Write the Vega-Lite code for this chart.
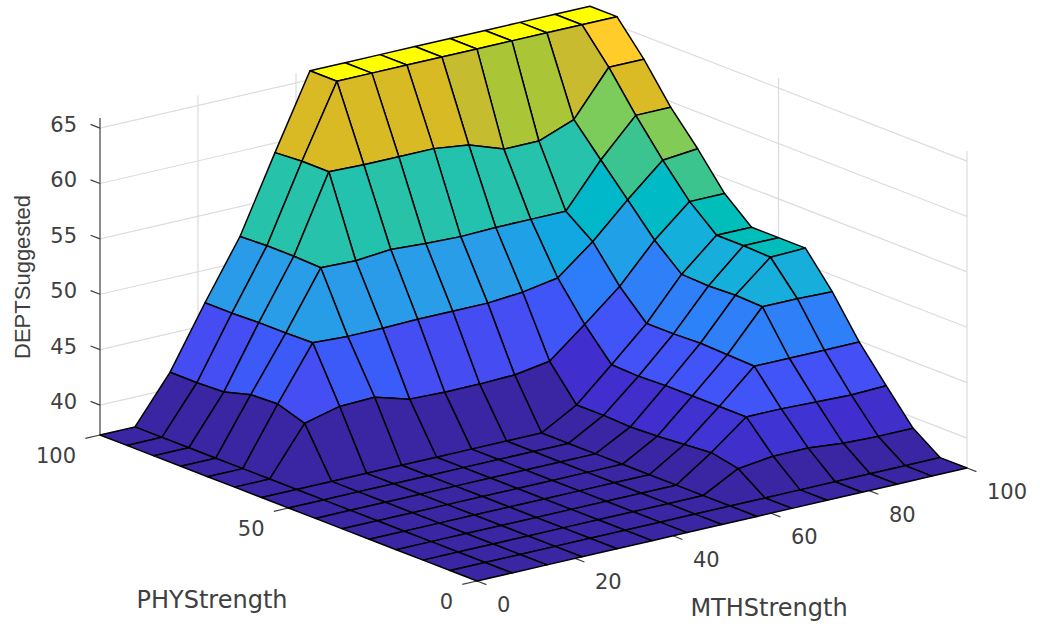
{"$schema":"https://vega.github.io/schema/vega-lite/v6.json","width":1040,"height":624,"autosize":{"type":"none"},"padding":0,"background":"white","config":{"view":{"stroke":null}},
"datasets":{
"surface":[
{"i":14,"j":14,"z":65.8},{"i":14,"j":13,"z":65.8},{"i":14,"j":12,"z":62.9},{"i":14,"j":11,"z":59.5},{"i":14,"j":10,"z":56.7},{"i":14,"j":9,"z":53.6},{"i":14,"j":8,"z":51.5},{"i":14,"j":7,"z":51.5},{"i":14,"j":6,"z":51.5},{"i":14,"j":5,"z":48.5},{"i":14,"j":4,"z":44.9},{"i":14,"j":3,"z":41.9},{"i":14,"j":2,"z":39.0},{"i":14,"j":1,"z":37.3},{"i":14,"j":0,"z":37.3},
{"i":13,"j":14,"z":65.8},{"i":13,"j":13,"z":65.8},{"i":13,"j":12,"z":62.9},{"i":13,"j":11,"z":59.5},{"i":13,"j":10,"z":56.4},{"i":13,"j":9,"z":53.6},{"i":13,"j":8,"z":51.5},{"i":13,"j":7,"z":51.5},{"i":13,"j":6,"z":51.4},{"i":13,"j":5,"z":48.6},{"i":13,"j":4,"z":44.9},{"i":13,"j":3,"z":41.8},{"i":13,"j":2,"z":39.0},{"i":13,"j":1,"z":37.3},{"i":13,"j":0,"z":37.3},
{"i":12,"j":14,"z":65.8},{"i":12,"j":13,"z":65.8},{"i":12,"j":12,"z":58.9},{"i":12,"j":11,"z":56.2},{"i":12,"j":10,"z":53.55},{"i":12,"j":9,"z":50.84},{"i":12,"j":8,"z":48.7},{"i":12,"j":7,"z":48.6},{"i":12,"j":6,"z":48.7},{"i":12,"j":5,"z":48.6},{"i":12,"j":4,"z":44.9},{"i":12,"j":3,"z":41.9},{"i":12,"j":2,"z":39.1},{"i":12,"j":1,"z":37.3},{"i":12,"j":0,"z":37.3},
{"i":11,"j":14,"z":65.8},{"i":11,"j":13,"z":65.8},{"i":11,"j":12,"z":57.7},{"i":11,"j":11,"z":52.3},{"i":11,"j":10,"z":50.5},{"i":11,"j":9,"z":47.4},{"i":11,"j":8,"z":45.0},{"i":11,"j":7,"z":45.0},{"i":11,"j":6,"z":45.1},{"i":11,"j":5,"z":45.0},{"i":11,"j":4,"z":44.9},{"i":11,"j":3,"z":42.0},{"i":11,"j":2,"z":39.4},{"i":11,"j":1,"z":37.3},{"i":11,"j":0,"z":37.3},
{"i":10,"j":14,"z":65.8},{"i":10,"j":13,"z":65.8},{"i":10,"j":12,"z":57.7},{"i":10,"j":11,"z":52.3},{"i":10,"j":10,"z":47.95},{"i":10,"j":9,"z":44.7},{"i":10,"j":8,"z":42.0},{"i":10,"j":7,"z":41.9},{"i":10,"j":6,"z":42.0},{"i":10,"j":5,"z":42.0},{"i":10,"j":4,"z":42.0},{"i":10,"j":3,"z":42.0},{"i":10,"j":2,"z":39.4},{"i":10,"j":1,"z":37.3},{"i":10,"j":0,"z":37.3},
{"i":9,"j":14,"z":65.8},{"i":9,"j":13,"z":65.8},{"i":9,"j":12,"z":58.8},{"i":9,"j":11,"z":52.3},{"i":9,"j":10,"z":47.4},{"i":9,"j":9,"z":42.1},{"i":9,"j":8,"z":39.1},{"i":9,"j":7,"z":39.1},{"i":9,"j":6,"z":39.0},{"i":9,"j":5,"z":39.1},{"i":9,"j":4,"z":39.3},{"i":9,"j":3,"z":39.5},{"i":9,"j":2,"z":39.0},{"i":9,"j":1,"z":37.3},{"i":9,"j":0,"z":37.3},
{"i":8,"j":14,"z":65.8},{"i":8,"j":13,"z":65.8},{"i":8,"j":12,"z":59.2},{"i":8,"j":11,"z":52.2},{"i":8,"j":10,"z":47.14},{"i":8,"j":9,"z":41.6},{"i":8,"j":8,"z":37.3},{"i":8,"j":7,"z":37.3},{"i":8,"j":6,"z":37.3},{"i":8,"j":5,"z":37.3},{"i":8,"j":4,"z":37.3},{"i":8,"j":3,"z":37.3},{"i":8,"j":2,"z":37.3},{"i":8,"j":1,"z":37.3},{"i":8,"j":0,"z":37.3},
{"i":7,"j":14,"z":65.8},{"i":7,"j":13,"z":65.8},{"i":7,"j":12,"z":59.2},{"i":7,"j":11,"z":52.3},{"i":7,"j":10,"z":47.14},{"i":7,"j":9,"z":41.5},{"i":7,"j":8,"z":37.3},{"i":7,"j":7,"z":37.3},{"i":7,"j":6,"z":37.3},{"i":7,"j":5,"z":37.3},{"i":7,"j":4,"z":37.3},{"i":7,"j":3,"z":37.3},{"i":7,"j":2,"z":37.3},{"i":7,"j":1,"z":37.3},{"i":7,"j":0,"z":37.3},
{"i":6,"j":14,"z":65.8},{"i":6,"j":13,"z":65.8},{"i":6,"j":12,"z":59.2},{"i":6,"j":11,"z":52.5},{"i":6,"j":10,"z":47.14},{"i":6,"j":9,"z":41.5},{"i":6,"j":8,"z":37.3},{"i":6,"j":7,"z":37.3},{"i":6,"j":6,"z":37.3},{"i":6,"j":5,"z":37.3},{"i":6,"j":4,"z":37.3},{"i":6,"j":3,"z":37.3},{"i":6,"j":2,"z":37.3},{"i":6,"j":1,"z":37.3},{"i":6,"j":0,"z":37.3},
{"i":5,"j":14,"z":59.14},{"i":5,"j":13,"z":59.3},{"i":5,"j":12,"z":59.3},{"i":5,"j":11,"z":52.2},{"i":5,"j":10,"z":47.05},{"i":5,"j":9,"z":41.6},{"i":5,"j":8,"z":37.3},{"i":5,"j":7,"z":37.3},{"i":5,"j":6,"z":37.3},{"i":5,"j":5,"z":37.3},{"i":5,"j":4,"z":37.3},{"i":5,"j":3,"z":37.3},{"i":5,"j":2,"z":37.3},{"i":5,"j":1,"z":37.3},{"i":5,"j":0,"z":37.3},
{"i":4,"j":14,"z":52.3},{"i":4,"j":13,"z":52.4},{"i":4,"j":12,"z":52.4},{"i":4,"j":11,"z":52.3},{"i":4,"j":10,"z":47.05},{"i":4,"j":9,"z":42.5},{"i":4,"j":8,"z":37.3},{"i":4,"j":7,"z":37.3},{"i":4,"j":6,"z":37.3},{"i":4,"j":5,"z":37.3},{"i":4,"j":4,"z":37.3},{"i":4,"j":3,"z":37.3},{"i":4,"j":2,"z":37.3},{"i":4,"j":1,"z":37.3},{"i":4,"j":0,"z":37.3},
{"i":3,"j":14,"z":47.05},{"i":3,"j":13,"z":47.05},{"i":3,"j":12,"z":47.14},{"i":3,"j":11,"z":47.14},{"i":3,"j":10,"z":47.2},{"i":3,"j":9,"z":42.4},{"i":3,"j":8,"z":37.3},{"i":3,"j":7,"z":37.3},{"i":3,"j":6,"z":37.3},{"i":3,"j":5,"z":37.3},{"i":3,"j":4,"z":37.3},{"i":3,"j":3,"z":37.3},{"i":3,"j":2,"z":37.3},{"i":3,"j":1,"z":37.3},{"i":3,"j":0,"z":37.3},
{"i":2,"j":14,"z":41.5},{"i":2,"j":13,"z":41.5},{"i":2,"j":12,"z":41.6},{"i":2,"j":11,"z":42.3},{"i":2,"j":10,"z":42.4},{"i":2,"j":9,"z":41.6},{"i":2,"j":8,"z":37.3},{"i":2,"j":7,"z":37.3},{"i":2,"j":6,"z":37.3},{"i":2,"j":5,"z":37.3},{"i":2,"j":4,"z":37.3},{"i":2,"j":3,"z":37.3},{"i":2,"j":2,"z":37.3},{"i":2,"j":1,"z":37.3},{"i":2,"j":0,"z":37.3},
{"i":1,"j":14,"z":37.3},{"i":1,"j":13,"z":37.3},{"i":1,"j":12,"z":37.3},{"i":1,"j":11,"z":37.3},{"i":1,"j":10,"z":37.3},{"i":1,"j":9,"z":37.3},{"i":1,"j":8,"z":37.3},{"i":1,"j":7,"z":37.3},{"i":1,"j":6,"z":37.3},{"i":1,"j":5,"z":37.3},{"i":1,"j":4,"z":37.3},{"i":1,"j":3,"z":37.3},{"i":1,"j":2,"z":37.3},{"i":1,"j":1,"z":37.3},{"i":1,"j":0,"z":37.3},
{"i":0,"j":14,"z":37.3},{"i":0,"j":13,"z":37.3},{"i":0,"j":12,"z":37.3},{"i":0,"j":11,"z":37.3},{"i":0,"j":10,"z":37.3},{"i":0,"j":9,"z":37.3},{"i":0,"j":8,"z":37.3},{"i":0,"j":7,"z":37.3},{"i":0,"j":6,"z":37.3},{"i":0,"j":5,"z":37.3},{"i":0,"j":4,"z":37.3},{"i":0,"j":3,"z":37.3},{"i":0,"j":2,"z":37.3},{"i":0,"j":1,"z":37.3},{"i":0,"j":0,"z":37.3}
],
"grid":[
{"s":"z40","o":0,"m":0,"p":100,"z":40},{"s":"z40","o":1,"m":100,"p":100,"z":40},{"s":"z40","o":2,"m":100,"p":0,"z":40},
{"s":"z45","o":0,"m":0,"p":100,"z":45},{"s":"z45","o":1,"m":100,"p":100,"z":45},{"s":"z45","o":2,"m":100,"p":0,"z":45},
{"s":"z50","o":0,"m":0,"p":100,"z":50},{"s":"z50","o":1,"m":100,"p":100,"z":50},{"s":"z50","o":2,"m":100,"p":0,"z":50},
{"s":"z55","o":0,"m":0,"p":100,"z":55},{"s":"z55","o":1,"m":100,"p":100,"z":55},{"s":"z55","o":2,"m":100,"p":0,"z":55},
{"s":"z60","o":0,"m":0,"p":100,"z":60},{"s":"z60","o":1,"m":100,"p":100,"z":60},{"s":"z60","o":2,"m":100,"p":0,"z":60},
{"s":"z65","o":0,"m":0,"p":100,"z":65},{"s":"z65","o":1,"m":100,"p":100,"z":65},{"s":"z65","o":2,"m":100,"p":0,"z":65},
{"s":"m20","o":0,"m":20,"p":100,"z":37.3},{"s":"m20","o":1,"m":20,"p":100,"z":65.9},
{"s":"m40","o":0,"m":40,"p":100,"z":37.3},{"s":"m40","o":1,"m":40,"p":100,"z":65.9},
{"s":"m60","o":0,"m":60,"p":100,"z":37.3},{"s":"m60","o":1,"m":60,"p":100,"z":65.9},
{"s":"m80","o":0,"m":80,"p":100,"z":37.3},{"s":"m80","o":1,"m":80,"p":100,"z":65.9},
{"s":"p50","o":0,"m":100,"p":50,"z":37.3},{"s":"p50","o":1,"m":100,"p":50,"z":65.9},
{"s":"p0","o":0,"m":100,"p":0,"z":37.3},{"s":"p0","o":1,"m":100,"p":0,"z":65.9}
],
"axes":[
{"s":"zaxis","o":0,"m":0,"p":100,"z":37.3},{"s":"zaxis","o":1,"m":0,"p":100,"z":65.9},
{"s":"t40","o":0,"m":0,"p":100,"z":40},{"s":"t40","o":1,"m":0,"p":102.5,"z":40},
{"s":"t45","o":0,"m":0,"p":100,"z":45},{"s":"t45","o":1,"m":0,"p":102.5,"z":45},
{"s":"t50","o":0,"m":0,"p":100,"z":50},{"s":"t50","o":1,"m":0,"p":102.5,"z":50},
{"s":"t55","o":0,"m":0,"p":100,"z":55},{"s":"t55","o":1,"m":0,"p":102.5,"z":55},
{"s":"t60","o":0,"m":0,"p":100,"z":60},{"s":"t60","o":1,"m":0,"p":102.5,"z":60},
{"s":"t65","o":0,"m":0,"p":100,"z":65},{"s":"t65","o":1,"m":0,"p":102.5,"z":65},
{"s":"tm0","o":0,"m":0,"p":0,"z":37.3},{"s":"tm0","o":1,"m":0,"p":-2.5,"z":37.3},
{"s":"tm20","o":0,"m":20,"p":0,"z":37.3},{"s":"tm20","o":1,"m":20,"p":-2.5,"z":37.3},
{"s":"tm40","o":0,"m":40,"p":0,"z":37.3},{"s":"tm40","o":1,"m":40,"p":-2.5,"z":37.3},
{"s":"tm60","o":0,"m":60,"p":0,"z":37.3},{"s":"tm60","o":1,"m":60,"p":-2.5,"z":37.3},
{"s":"tm80","o":0,"m":80,"p":0,"z":37.3},{"s":"tm80","o":1,"m":80,"p":-2.5,"z":37.3},
{"s":"tm100","o":0,"m":100,"p":0,"z":37.3},{"s":"tm100","o":1,"m":100,"p":-2.5,"z":37.3},
{"s":"tp0","o":0,"m":0,"p":0,"z":37.3},{"s":"tp0","o":1,"m":-3,"p":0,"z":37.3},
{"s":"tp50","o":0,"m":0,"p":50,"z":37.3},{"s":"tp50","o":1,"m":-3,"p":50,"z":37.3},
{"s":"tp100","o":0,"m":0,"p":100,"z":37.3},{"s":"tp100","o":1,"m":-3,"p":100,"z":37.3}
]
},
"layer":[
{"data":{"name":"grid"},
 "transform":[{"calculate":"477+4.9*datum.m-3.77*datum.p","as":"sx"},{"calculate":"581-1.13*datum.m-1.46*datum.p-(datum.z-37.3)*11.08","as":"sy"}],
 "mark":{"type":"line","stroke":"#dcdcdc","strokeWidth":1.2},
 "encoding":{"x":{"field":"sx","type":"quantitative","scale":{"domain":[0,1040],"nice":false,"zero":false},"axis":null},"y":{"field":"sy","type":"quantitative","scale":{"domain":[624,0],"nice":false,"zero":false},"axis":null},"detail":{"field":"s"},"order":{"field":"o"}}},
{"data":{"name":"axes"},
 "transform":[{"calculate":"477+4.9*datum.m-3.77*datum.p","as":"sx"},{"calculate":"581-1.13*datum.m-1.46*datum.p-(datum.z-37.3)*11.08","as":"sy"}],
 "mark":{"type":"line","stroke":"#404040","strokeWidth":1.2},
 "encoding":{"x":{"field":"sx","type":"quantitative","scale":{"domain":[0,1040],"nice":false,"zero":false},"axis":null},"y":{"field":"sy","type":"quantitative","scale":{"domain":[624,0],"nice":false,"zero":false},"axis":null},"detail":{"field":"s"},"order":{"field":"o"}}},
{"data":{"name":"surface"},
 "transform":[
  {"calculate":"[0,1,2,3]","as":"k"},{"flatten":["k"]},
  {"calculate":"datum.i-((datum.k==1||datum.k==2)?1:0)","as":"ci"},
  {"calculate":"datum.j-(datum.k>=2?1:0)","as":"cj"},
  {"filter":"datum.ci>=0&&datum.ci<14&&datum.cj>=0&&datum.cj<14"},
  {"calculate":"datum.ci*100+datum.cj","as":"cell"},
  {"calculate":"datum.k==0?datum.z:null","as":"c0"},
  {"joinaggregate":[{"op":"max","field":"c0","as":"cz"}],"groupby":["cell"]},
  {"calculate":"477+35*datum.i-26.93*datum.j","as":"sx"},
  {"calculate":"581-8.07*datum.i-10.43*datum.j-(datum.z-37.3)*11.08","as":"sy"}
 ],
 "mark":{"type":"line","interpolate":"linear-closed","stroke":"#000000","strokeWidth":1.5,"strokeJoin":"round"},
 "encoding":{"x":{"field":"sx","type":"quantitative","scale":{"domain":[0,1040],"nice":false,"zero":false},"axis":null},"y":{"field":"sy","type":"quantitative","scale":{"domain":[624,0],"nice":false,"zero":false},"axis":null},"detail":{"field":"cell"},"order":{"field":"k"},
 "fill":{"field":"cz","type":"quantitative","legend":null,"scale":{"domain":[37.3,39.2,41.8,45,47.1,48.6,50.6,52.3,53.6,56.2,57.7,58.9,59.2,62.9,65.8],"range":["#3a26a3","#4030d0","#4450f6","#2f80f8","#2a9ce8","#18aedc","#00b8c8","#26c2ac","#3cc48e","#7ccc5c","#aac535","#c8bb30","#d8ba25","#ffcc2a","#ffff00"]}}}},
{"data":{"values":[{"t":"0","m":0},{"t":"20","m":20},{"t":"40","m":40},{"t":"60","m":60},{"t":"80","m":80},{"t":"100","m":100}]},
 "transform":[{"calculate":"477+4.9*datum.m","as":"sx"},{"calculate":"581-1.13*datum.m","as":"sy"}],
 "mark":{"type":"text","align":"left","baseline":"middle","dx":20,"dy":25,"font":"DejaVu Sans","fontSize":21,"fill":"#404040"},
 "encoding":{"x":{"field":"sx","type":"quantitative","scale":{"domain":[0,1040],"nice":false,"zero":false},"axis":null},"y":{"field":"sy","type":"quantitative","scale":{"domain":[624,0],"nice":false,"zero":false},"axis":null},"text":{"field":"t"}}},
{"data":{"values":[{"t":"0","p":0},{"t":"50","p":50},{"t":"100","p":100}]},
 "transform":[{"calculate":"477-3.77*datum.p","as":"sx"},{"calculate":"581-1.46*datum.p","as":"sy"}],
 "mark":{"type":"text","align":"right","baseline":"middle","dx":-24,"dy":22,"font":"DejaVu Sans","fontSize":21,"fill":"#404040"},
 "encoding":{"x":{"field":"sx","type":"quantitative","scale":{"domain":[0,1040],"nice":false,"zero":false},"axis":null},"y":{"field":"sy","type":"quantitative","scale":{"domain":[624,0],"nice":false,"zero":false},"axis":null},"text":{"field":"t"}}},
{"data":{"values":[{"t":"40","z":40},{"t":"45","z":45},{"t":"50","z":50},{"t":"55","z":55},{"t":"60","z":60},{"t":"65","z":65}]},
 "transform":[{"calculate":"100","as":"sx"},{"calculate":"435-(datum.z-37.3)*11.08","as":"sy"}],
 "mark":{"type":"text","align":"right","baseline":"middle","dx":-23,"dy":-2,"font":"DejaVu Sans","fontSize":21,"fill":"#404040"},
 "encoding":{"x":{"field":"sx","type":"quantitative","scale":{"domain":[0,1040],"nice":false,"zero":false},"axis":null},"y":{"field":"sy","type":"quantitative","scale":{"domain":[624,0],"nice":false,"zero":false},"axis":null},"text":{"field":"t"}}},
{"data":{"values":[{"t":"PHYStrength","m":0,"p":70},{"t":"MTHStrength","m":60,"p":0}]},
 "transform":[{"calculate":"datum.m==0?212:769","as":"sx"},{"calculate":"datum.m==0?601:609","as":"sy"}],
 "mark":{"type":"text","align":"center","baseline":"middle","font":"DejaVu Sans","fontSize":24,"fill":"#404040"},
 "encoding":{"x":{"field":"sx","type":"quantitative","scale":{"domain":[0,1040],"nice":false,"zero":false},"axis":null},"y":{"field":"sy","type":"quantitative","scale":{"domain":[624,0],"nice":false,"zero":false},"axis":null},"text":{"field":"t"}}},
{"data":{"values":[{"t":"DEPTSuggested"}]},
 "transform":[{"calculate":"23","as":"sx"},{"calculate":"277","as":"sy"}],
 "mark":{"type":"text","align":"center","baseline":"middle","angle":270,"font":"Liberation Sans","fontSize":22,"fill":"#404040"},
 "encoding":{"x":{"field":"sx","type":"quantitative","scale":{"domain":[0,1040],"nice":false,"zero":false},"axis":null},"y":{"field":"sy","type":"quantitative","scale":{"domain":[624,0],"nice":false,"zero":false},"axis":null},"text":{"field":"t"}}}
]}
